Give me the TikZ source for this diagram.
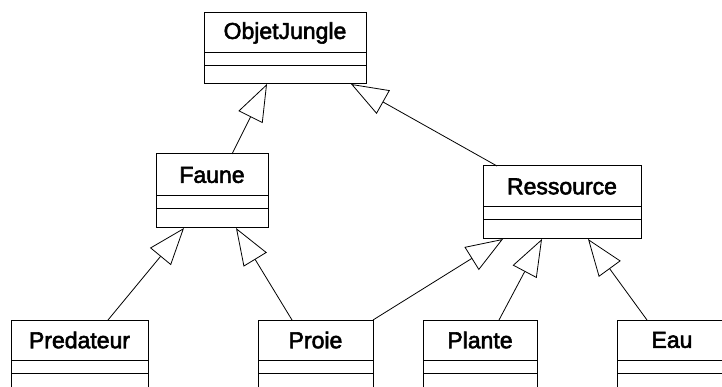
\documentclass[tikz,border=0pt]{standalone}
\usepackage{fontspec}
\setmainfont{Liberation Sans}
\newfontfamily\clsfont{Liberation Sans}[FakeBold=2.5]
\usetikzlibrary{arrows.meta}
\begin{document}
\begin{tikzpicture}[x=1pt,y=-1pt,
  box/.style={draw, line width=1pt, inner sep=0pt, outer sep=0pt, anchor=north west},
  cname/.style={box, font=\clsfont\fontsize{23}{23}\selectfont},
  gen/.style={draw, line width=0.8pt, -{Triangle[open,length=37pt,width=27pt]}}]
\useasboundingbox (0,0) rectangle (722,387);
\clip (0,0) rectangle (722,387);
% ObjetJungle
\node[cname, minimum width=162pt, minimum height=40pt] (oj) at (204,13) {ObjetJungle};
\node[box, minimum width=162pt, minimum height=13pt] (oja) at (oj.south west) {};
\node[box, minimum width=162pt, minimum height=18pt] (ojo) at (oja.south west) {};
% Faune
\node[cname, minimum width=112pt, minimum height=42pt] (fa) at (156,154) {Faune};
\node[box, minimum width=112pt, minimum height=13pt] (faa) at (fa.south west) {};
\node[box, minimum width=112pt, minimum height=19pt] (fao) at (faa.south west) {};
% Ressource
\node[cname, minimum width=158pt, minimum height=41pt] (re) at (483,166) {Ressource};
\node[box, minimum width=158pt, minimum height=13pt] (rea) at (re.south west) {};
\node[box, minimum width=158pt, minimum height=19pt] (reo) at (rea.south west) {};
% Predateur
\node[cname, minimum width=137pt, minimum height=40pt] (pr) at (11,320) {Predateur};
\node[box, minimum width=137pt, minimum height=13pt] (pra) at (pr.south west) {};
\node[box, minimum width=137pt, minimum height=30pt] (pro) at (pra.south west) {};
% Proie
\node[cname, minimum width=115pt, minimum height=40pt] (po) at (258,320) {Proie};
\node[box, minimum width=115pt, minimum height=13pt] (poa) at (po.south west) {};
\node[box, minimum width=115pt, minimum height=30pt] (poo) at (poa.south west) {};
% Plante
\node[cname, minimum width=114pt, minimum height=40pt] (pl) at (423,320) {Plante};
\node[box, minimum width=114pt, minimum height=13pt] (pla) at (pl.south west) {};
\node[box, minimum width=114pt, minimum height=30pt] (plo) at (pla.south west) {};
% Eau
\node[cname, minimum width=110pt, minimum height=40pt] (ea) at (617,320) {Eau};
\node[box, minimum width=110pt, minimum height=13pt] (eaa) at (ea.south west) {};
\node[box, minimum width=110pt, minimum height=30pt] (eao) at (eaa.south west) {};
% generalizations
\draw[gen] ([xshift=20pt]fa.north) -- ([xshift=-18pt]ojo.south);
\draw[gen] ([xshift=14pt]re.north west) -- ([xshift=-15pt]ojo.south east);
\draw[gen] ([xshift=28.5pt]pr.north) -- ([xshift=-28pt]fao.south);
\draw[gen] ([xshift=-23.5pt]po.north) -- ([xshift=24pt]fao.south);
\draw[gen] (po.north east) -- ([xshift=20pt]reo.south west);
\draw[gen] ([xshift=19pt]pl.north) -- ([xshift=-20pt]reo.south);
\draw[gen] ([xshift=30pt]ea.north west) -- ([xshift=26pt]reo.south);
\end{tikzpicture}
\end{document}
